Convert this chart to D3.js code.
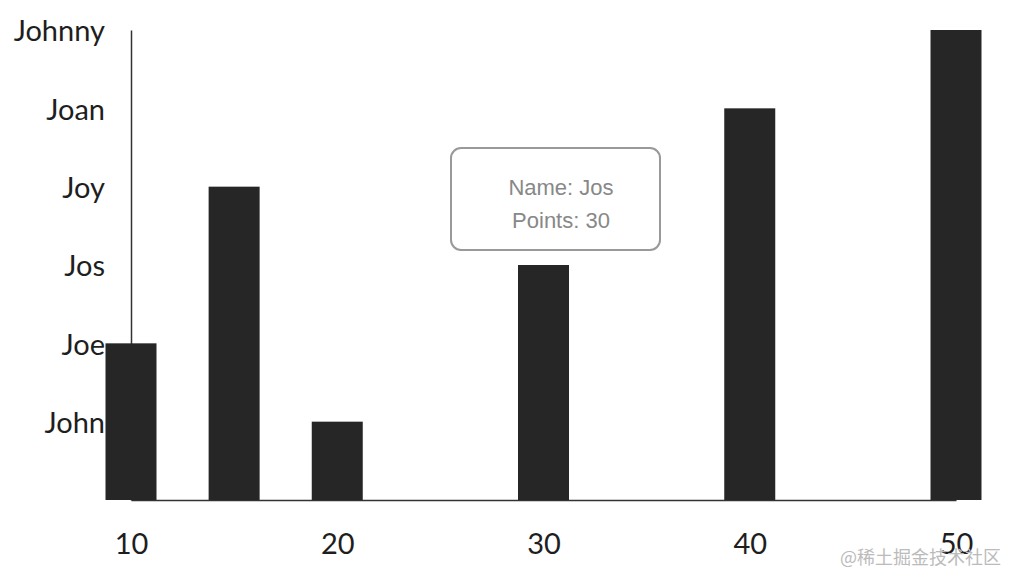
<!DOCTYPE html>
<html>
<head>
<meta charset="utf-8">
<script src="https://cdn.jsdelivr.net/npm/d3@7"></script>
<style>
    html, body { margin: 0; padding: 0; background: #fff; }
    #chart { position: relative; width: 1020px; height: 586px; overflow: hidden; }
    .axis text { font-family: Lato, "Open Sans", sans-serif; font-size: 29px; fill: #1e1e1e; }
    .axis path { stroke: #333; stroke-width: 1.5; }
    .tooltip {
        position: absolute;
        box-sizing: border-box;
        width: 211px;
        height: 104px;
        padding-top: 22px;
        padding-left: 12px;
        background: #fff;
        border: 2px solid #999;
        border-radius: 11px;
        text-align: center;
        font-family: "Liberation Sans", Arial, sans-serif;
        font-size: 22px;
        line-height: 33px;
        color: #888;
    }
    .watermark { font-family: "Noto Sans CJK SC", sans-serif; font-size: 18px; fill: #bbb; }
</style>
</head>
<body>
<div id="chart"></div>
<script>

var names = ['John', 'Joe', 'Jos', 'Joy', 'Joan', 'Johnny'];
var points = [20, 10, 30, 15, 40, 50];
var xTicks = [10, 20, 30, 40, 50];
var hovered = 'Jos';

var margin = {top: 30, left: 131};
var width = 825;
var height = 470;
var barWidth = 51;

var data = names.map(function(name, i) { return {name: name, points: points[i]}; });

var svg = d3.select('#chart').append('svg')
    .attr('width', 1020)
    .attr('height', 586);

var g = svg.append('g')
    .attr('transform', 'translate(' + margin.left + ',' + margin.top + ')');

var x = d3.scaleLinear()
    .domain([10, 50])
    .range([0, width]);

var y = d3.scaleBand()
    .domain(names)
    .range([height, 0]);

// x axis
g.append('g')
    .attr('class', 'axis')
    .attr('transform', 'translate(0,' + height + ')')
    .call(d3.axisBottom(x).tickValues(xTicks).tickFormat(d3.format('d')).tickSize(0).tickPadding(33));

// y axis, labels sit on the top edge of each band
var yAxis = g.append('g')
    .attr('class', 'axis')
    .call(d3.axisLeft(y).tickSize(0).tickPadding(26));

yAxis.selectAll('.tick')
    .attr('transform', function(d) { return 'translate(0,' + (y(d) + 2) + ')'; });

// bars
g.selectAll('.bar')
    .data(data).enter()
    .append('rect')
    .attr('class', 'bar')
    .attr('x', function(d) { return x(d.points) - barWidth / 2; })
    .attr('y', function(d) { return y(d.name); })
    .attr('width', barWidth)
    .attr('height', function(d) { return height - y(d.name); })
    .style('fill', '#262626');

// tooltip for the hovered bar
var hoverData = data.filter(function(d) { return d.name === hovered; })[0];

d3.select('#chart').append('div')
    .attr('class', 'tooltip')
    .style('left', (margin.left + x(hoverData.points) - 94) + 'px')
    .style('top', (margin.top + y(hoverData.name) - 118) + 'px')
    .html('Name: ' + hoverData.name + '<br>Points: ' + hoverData.points);

svg.append('text')
    .attr('class', 'watermark')
    .attr('x', 1001)
    .attr('y', 564)
    .attr('text-anchor', 'end')
    .text('@稀土掘金技术社区');

</script>
</body>
</html>
